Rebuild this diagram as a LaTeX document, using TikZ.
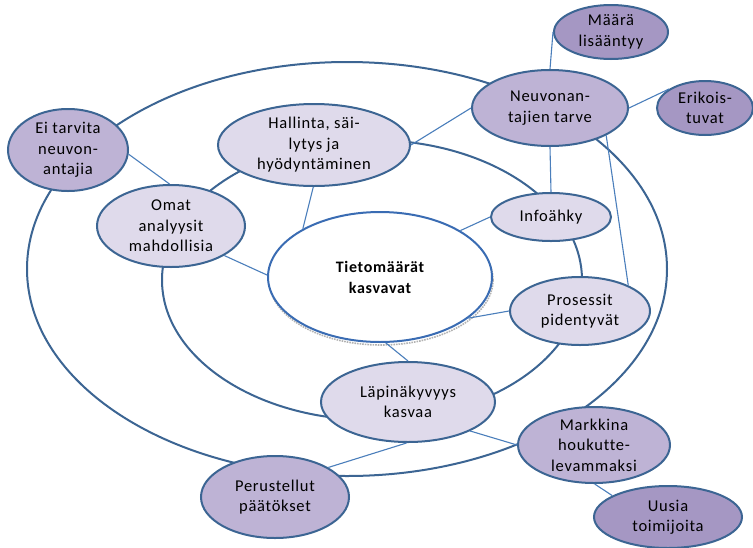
\documentclass[tikz,border=0pt]{standalone}
\usepackage{fontspec}
\setmainfont{Carlito}[LetterSpace=4.5, Ligatures={NoCommon}]
\usetikzlibrary{shapes.geometric}
\definecolor{ringblue}{HTML}{3C6593}
\definecolor{linkblue}{HTML}{4A7EBB}
\definecolor{coreblue}{HTML}{3A6CB3}
\definecolor{lilaclight}{HTML}{DFDAEB}
\definecolor{lilacmid}{HTML}{BEB3D5}
\definecolor{lilacdark}{HTML}{A597C3}
\begin{document}
\begin{tikzpicture}[x=1pt,y=-1pt,
  ring/.style={draw=ringblue, line width=2pt},
  link/.style={draw=linkblue, line width=1.1pt},
  bub/.style={ellipse, draw=ringblue, line width=2pt, inner sep=0pt},
  light/.style={bub, fill=lilaclight},
  mid/.style={bub, fill=lilacmid},
  dark/.style={bub, fill=lilacdark},
  txt/.style={align=center, inner sep=0pt, text=black,
    font=\fontsize{16.5}{20.5}\selectfont},
]
\useasboundingbox (0,0) rectangle (753,547);

% the two rings around the core
\draw[ring] (347,269) ellipse [x radius=320, y radius=207];
\draw[ring] (372,280) ellipse [x radius=210, y radius=140];

% core with its soft shadow
\node[ellipse, draw=gray!60, line width=1.6pt, densely dotted,
  minimum width=224pt, minimum height=130pt, inner sep=0pt] (tieto-sh) at (381,280) {};
\node[bub, draw=coreblue, fill=white, minimum width=224pt, minimum height=130pt] (tieto) at (380,277) {};
\node[txt, font=\fontsize{16}{21}\selectfont\bfseries] (tieto-t) at (tieto) {Tietomäärät\\kasvavat};

% inner ring
\node[light, minimum width=192pt, minimum height=82pt] (hall) at (314,145) {};
\node[txt] (hall-t) at (hall) {Hallinta, säi-\\lytys ja\\hyödyntäminen};
\node[light, minimum width=148pt, minimum height=82pt] (omat) at (171,226) {};
\node[txt] (omat-t) at (omat) {Omat\\analyysit\\mahdollisia};
\node[light, minimum width=120pt, minimum height=48pt] (info) at (551,217) {};
\node[txt] (info-t) at (info) {Infoähky};
\node[light, minimum width=140pt, minimum height=68pt] (pros) at (580,311) {};
\node[txt] (pros-t) at (pros) {Prosessit\\pidentyvät};
\node[light, minimum width=174pt, minimum height=80pt] (lapi) at (408,402) {};
\node[txt] (lapi-t) at (lapi) {Läpinäkyvyys\\kasvaa};

% outer ring
\node[mid, minimum width=120pt, minimum height=82pt] (ei) at (68,150) {};
\node[txt] (ei-t) at (ei) {Ei tarvita\\neuvon-\\antajia};
\node[mid, minimum width=156pt, minimum height=76pt] (neuvo) at (550,108) {};
\node[txt] (neuvo-t) at (neuvo) {Neuvonan-\\tajien tarve};
\node[mid, minimum width=152pt, minimum height=76pt] (markk) at (594,445) {};
\node[txt] (markk-t) at (markk) {Markkina\\houkutte-\\levammaksi};
\node[mid, minimum width=148pt, minimum height=82pt] (perus) at (275,497) {};
\node[txt] (perus-t) at (perus) {Perustellut\\päätökset};

% outside the rings
\node[dark, minimum width=114pt, minimum height=54pt] (maara) at (611,32) {};
\node[txt] (maara-t) at (maara) {Määrä\\lisääntyy};
\node[dark, minimum width=96pt, minimum height=54pt] (erik) at (705,108) {};
\node[txt] (erik-t) at (erik) {Erikois-\\tuvat};
\node[dark, minimum width=148pt, minimum height=62pt] (uusia) at (668,517) {};
\node[txt] (uusia-t) at (uusia) {Uusia\\toimijoita};

% connectors
\draw[link] (ei.-4) -- (omat.92);
\draw[link] (omat.-29) -- (tieto.179);
\draw[link] (hall.-91) -- (tieto.148);
\draw[link] (hall.0) -- (neuvo.180);
\draw[link] (neuvo.90) -- (maara.180);
\draw[link] (neuvo.0) -- (erik.152);
\draw[link] (neuvo.-90) -- (info.90);
\draw[link] (neuvo.-26) -- (pros.28);
\draw[link] (info.180) -- (tieto.30);
\draw[link] (pros.180) -- (tieto.-25);
\draw[link] (tieto.-85) -- (lapi.90);
\draw[link] (lapi.-25) -- (markk.180);
\draw[link] (perus.29) -- (lapi.-92);
\draw[link] (markk.-89) -- (uusia.159);
\end{tikzpicture}
\end{document}
